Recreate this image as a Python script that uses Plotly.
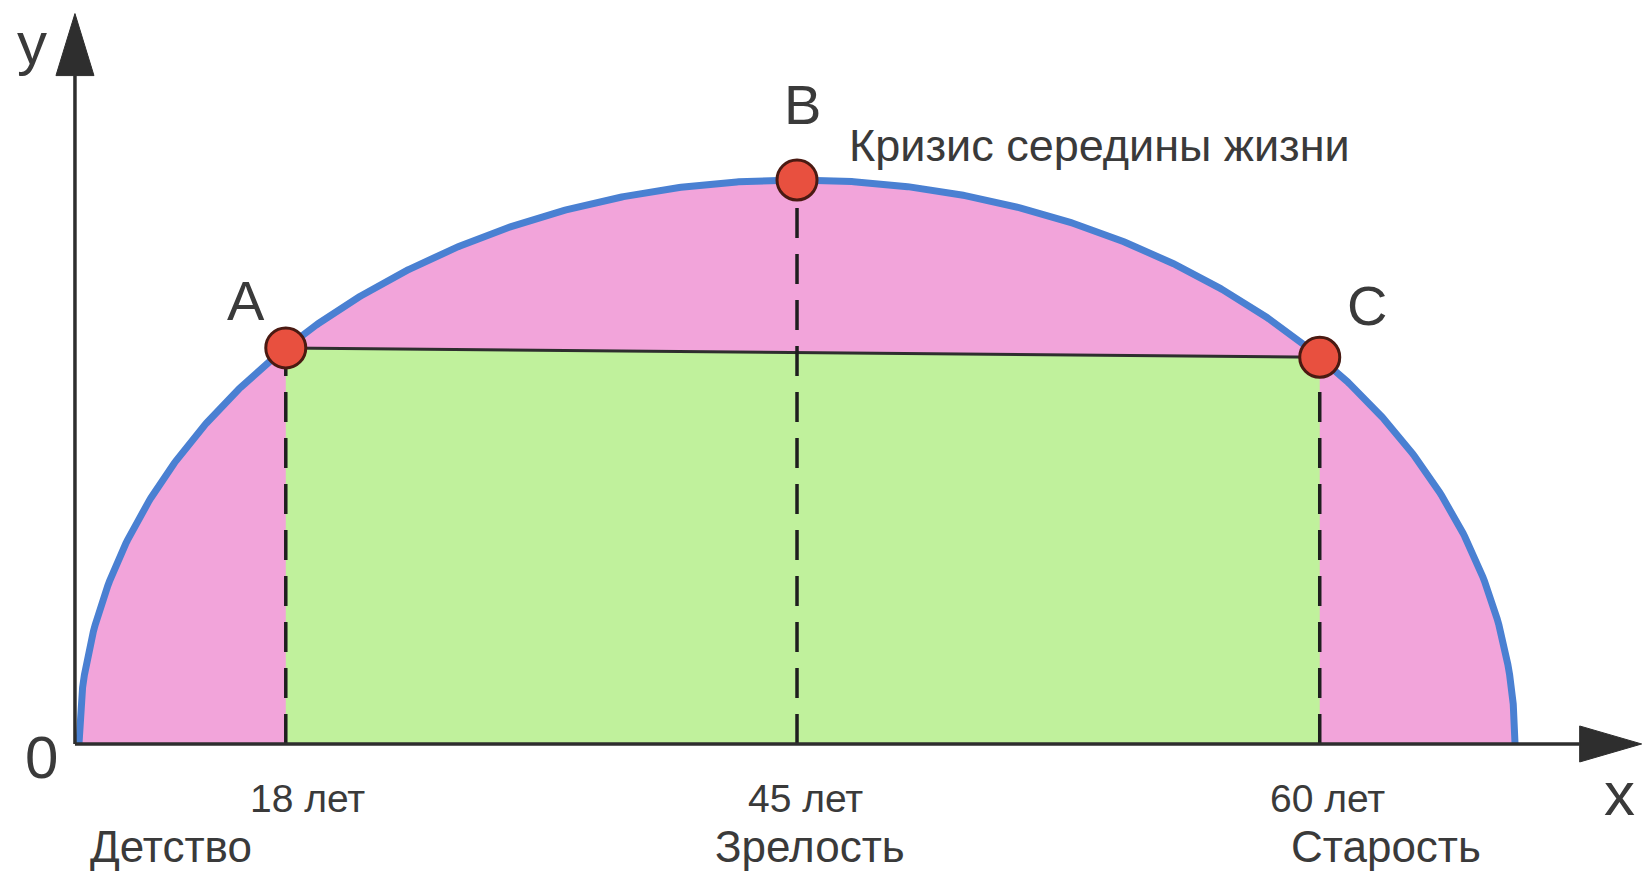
import numpy as np
import plotly.graph_objects as go

# ---- data (schematic units: life curve spans 0..100 on x, peak 100 on y) ----
curve_start = 0.0
curve_end = 100.0
curve_peak = 100.0
stage_x = [14.4, 50.0, 86.4]          # A, B, C positions on the x axis
point_names = ["A", "B", "C"]
age_labels = ["18 лет", "45 лет", "60 лет"]
period_labels = ["Детство", "Зрелость", "Старость"]
crisis_label = "Кризис середины жизни"

FONT = "Liberation Sans, Arial, sans-serif"
TXT = "#3a3a3a"
PINK = "#f2a4da"
GREEN = "#c0f19c"
BLUE = "#4a80d2"
RED = "#e8503f"
DARK = "#2e2e2e"

center = (curve_start + curve_end) / 2
half = (curve_end - curve_start) / 2


def life(x):
    x = np.asarray(x, dtype=float)
    return curve_peak * np.sqrt(np.clip(1 - ((x - center) / half) ** 2, 0, None))


xs = np.linspace(curve_start, curve_end, 800)
ys = life(xs)
stage_y = life(stage_x)

fig = go.Figure()

# pink semi-ellipse
fig.add_trace(go.Scatter(
    x=np.concatenate([xs, [curve_start]]), y=np.concatenate([ys, [0]]),
    fill="toself", fillcolor=PINK, line=dict(width=0), mode="lines",
    hoverinfo="skip", showlegend=False))

# green region between A and C
xa, xc = stage_x[0], stage_x[2]
ya, yc = stage_y[0], stage_y[2]
fig.add_trace(go.Scatter(
    x=[xa, xa, xc, xc, xa], y=[0, ya, yc, 0, 0],
    fill="toself", fillcolor=GREEN, line=dict(width=0), mode="lines",
    hoverinfo="skip", showlegend=False))

# A-C line
fig.add_trace(go.Scatter(
    x=[xa, xc], y=[ya, yc], mode="lines",
    line=dict(color=DARK, width=3), hoverinfo="skip", showlegend=False))

# dashed verticals
for sx, sy in zip(stage_x, stage_y):
    fig.add_trace(go.Scatter(
        x=[sx, sx], y=[0, sy], mode="lines",
        line=dict(color="#1e1e1e", width=3.5, dash="30px,16px"),
        hoverinfo="skip", showlegend=False))

# blue life curve
fig.add_trace(go.Scatter(
    x=xs, y=ys, mode="lines", line=dict(color=BLUE, width=7),
    hoverinfo="skip", showlegend=False))

# red points
fig.add_trace(go.Scatter(
    x=stage_x, y=stage_y, mode="markers",
    marker=dict(size=40, color=RED, line=dict(color="#4a1a12", width=3)),
    hoverinfo="skip", showlegend=False))

# ---- axes (drawn as shapes) ----
x_axis_origin = -0.28
x_arrow_base = 104.5
y_arrow_base = 118.5
fig.add_shape(type="line", x0=x_axis_origin, y0=0, x1=x_arrow_base, y1=0,
              line=dict(color=DARK, width=3.5), layer="above")
fig.add_shape(type="line", x0=x_axis_origin, y0=0, x1=x_axis_origin, y1=y_arrow_base,
              line=dict(color=DARK, width=3.5), layer="above")
# arrow heads (pixel sized)
fig.add_shape(type="path", xref="x", yref="y", xsizemode="pixel", ysizemode="pixel",
              xanchor=x_arrow_base, yanchor=0,
              path="M 0 -18 L 62 0 L 0 18 Z", fillcolor=DARK, line=dict(color=DARK, width=1),
              layer="above")
fig.add_shape(type="path", xref="x", yref="y", xsizemode="pixel", ysizemode="pixel",
              xanchor=x_axis_origin, yanchor=y_arrow_base,
              path="M -19 0 L 0 62 L 19 0 Z", fillcolor=DARK, line=dict(color=DARK, width=1),
              layer="above")

ann = []


def add_text(text, x, y, size, xshift=0, yshift=0, xanchor="center", yanchor="middle"):
    ann.append(dict(text=text, x=x, y=y, xref="x", yref="y", showarrow=False,
                    xshift=xshift, yshift=yshift, xanchor=xanchor, yanchor=yanchor,
                    font=dict(family=FONT, size=size, color=TXT)))


# axis letters
add_text("y", x_axis_origin, y_arrow_base, 60, xshift=-43, yshift=32)
add_text("0", x_axis_origin, 0, 60, xshift=-33, yshift=-14)
add_text("x", x_arrow_base, 0, 62, xshift=40, yshift=-50)

# point letters
shifts = [(-40, 47), (5, 75), (47, 52)]
for name, sx, sy, (dx, dy) in zip(point_names, stage_x, stage_y, shifts):
    add_text(name, sx, sy, 56, xshift=dx, yshift=dy)

add_text(crisis_label, stage_x[1], stage_y[1], 45, xshift=50, yshift=34, xanchor="left")

# age and period labels
age_dx = [22, 8, 8]
period_dx = [-115, 13, 66]
for sx, lab, per, dx1, dx2 in zip(stage_x, age_labels, period_labels, age_dx, period_dx):
    add_text(lab, sx, 0, 39, xshift=dx1, yshift=-55)
    add_text(per, sx, 0, 44, xshift=dx2, yshift=-103)

fig.update_layout(
    width=1644, height=875,
    margin=dict(l=0, r=0, t=0, b=0),
    paper_bgcolor="white", plot_bgcolor="white",
    annotations=ann,
    xaxis=dict(range=[-5.50, 108.98], visible=False, fixedrange=True),
    yaxis=dict(range=[-23.23, 131.9], visible=False, fixedrange=True),
    showlegend=False,
)

fig.write_html("out.html", config=dict(displayModeBar=False),
               post_script="document.body.style.margin='0px';document.body.style.overflow='hidden';")
